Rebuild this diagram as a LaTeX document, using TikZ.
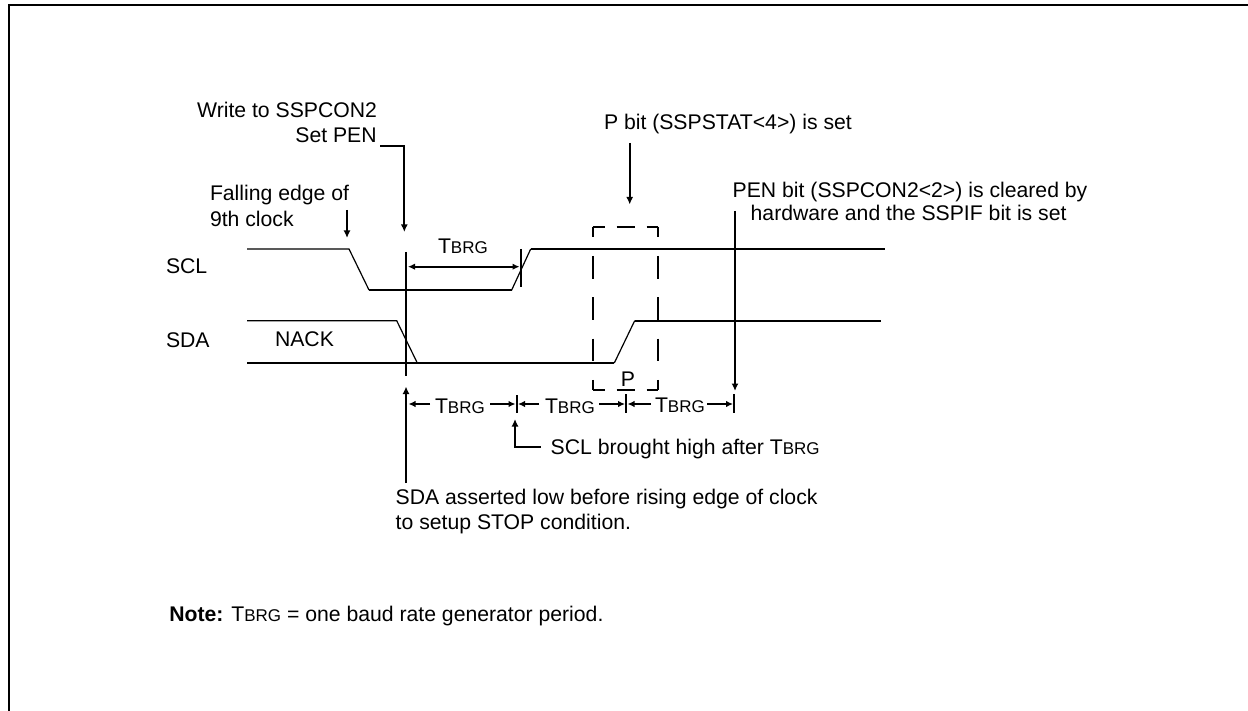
\documentclass[tikz,border=0pt]{standalone}
\usepackage{fontspec}
\setmainfont{Liberation Sans}
\usetikzlibrary{arrows.meta}
\newcommand{\tbrg}{T{\fontsize{17}{20}\selectfont BRG}}
\tikzset{
  x=1pt,y=-1pt,
  lbl/.style={inner sep=0pt,outer sep=0pt,font=\fontsize{21.2}{25}\selectfont},
  lblw/.style={lbl,anchor=base west},
  lble/.style={lbl,anchor=base east},
  wavethin/.style={line width=1.2pt,line join=miter},
  wavethick/.style={line width=1.8pt,line join=miter},
  mark line/.style={line width=1.8pt},
  pointer/.style={line width=1.7pt,-{Latex[length=7.5pt,width=7pt]}},
  dimhead/.style={line width=1.7pt,-{Latex[length=7pt,width=6.5pt]}},
  dashh/.style={line width=1.7pt,dash pattern=on 18pt off 12pt,dash phase=6pt},
  dashv/.style={line width=1.7pt,dash pattern=on 22.7pt off 18.6pt,dash phase=12pt},
}
\begin{document}
\begin{tikzpicture}
\useasboundingbox (0,0) rectangle (1248,711);
% frame
\coordinate (fa) at (1248,5);
\coordinate (fb) at (9,5);
\coordinate (fc) at (9,711);
\draw[line width=2pt,line join=miter] (fa) -- (fb) -- (fc);

% SCL waveform
\coordinate (sclA) at (247,249);
\coordinate (sclB) at (349,249);
\coordinate (sclC) at (369,290);
\coordinate (sclD) at (511.7,290);
\coordinate (sclE) at (530.7,249);
\coordinate (sclF) at (885,249);
\draw[wavethin] (sclA) -- (sclB) -- (sclC);
\draw[wavethick] (sclC) -- (sclD);
\draw[wavethin] (sclD) -- (sclE);
\draw[wavethick] (sclE) -- (sclF);

% SDA waveform
\coordinate (sdaA) at (247,320.7);
\coordinate (sdaB) at (396.7,320.7);
\coordinate (sdaC) at (417.3,363);
\coordinate (sdaD) at (247,363);
\coordinate (sdaE) at (614.3,363);
\coordinate (sdaF) at (634.7,320.7);
\coordinate (sdaG) at (880.7,320.7);
\draw[wavethin] (sdaA) -- (sdaB) -- (sdaC);
\draw[wavethick] (sdaD) -- (sdaE);
\draw[wavethin] (sdaE) -- (sdaF);
\draw[wavethick] (sdaF) -- (sdaG);

% vertical markers
\coordinate (m1a) at (406,252);
\coordinate (m1b) at (406,376);
\draw[mark line] (m1a) -- (m1b);
\coordinate (m2a) at (520.7,249);
\coordinate (m2b) at (520.7,287);
\draw[mark line] (m2a) -- (m2b);

% TBRG on SCL
\coordinate (t0a) at (408,266.7);
\coordinate (t0m) at (464,266.7);
\coordinate (t0b) at (519.5,266.7);
\draw[dimhead] (t0m) -- (t0a);
\draw[dimhead] (t0m) -- (t0b);
\node[lblw] (t0) at (438,254) {\tbrg};

% pointers
\coordinate (wA) at (380,145.7);
\coordinate (wB) at (404.3,145.7);
\coordinate (wC) at (404.3,232);
\draw[pointer,line join=miter] (wA) -- (wB) -- (wC);
\coordinate (feA) at (347,210);
\coordinate (feB) at (347,238);
\draw[pointer] (feA) -- (feB);
\coordinate (saA) at (406,483);
\coordinate (saB) at (406,386.5);
\draw[pointer] (saA) -- (saB);
\coordinate (penA) at (735,211);
\coordinate (penB) at (735,391);
\draw[pointer] (penA) -- (penB);
\coordinate (pbA) at (629.7,143);
\coordinate (pbB) at (629.7,204.5);
\draw[pointer] (pbA) -- (pbB);
\coordinate (shA) at (540.7,447);
\coordinate (shB) at (515,447);
\coordinate (shC) at (515,419);
\draw[pointer,line join=miter] (shA) -- (shB) -- (shC);

% dashed P box
\coordinate (bTL) at (592.7,226.7);
\coordinate (bTR) at (657.7,226.7);
\coordinate (bBL) at (592.7,390);
\coordinate (bBR) at (657.7,390);
\draw[dashh] (bTL) -- (bTR);
\draw[dashh] (bBL) -- (bBR);
\draw[dashv] (bTL) -- (bBL);
\draw[dashv] (bTR) -- (bBR);

% dimension ticks
\coordinate (k1a) at (516.7,395);
\coordinate (k1b) at (516.7,413);
\coordinate (k2a) at (626,394);
\coordinate (k2b) at (626,413);
\coordinate (k3a) at (734,394);
\coordinate (k3b) at (734,413);
\draw[mark line] (k1a) -- (k1b);
\draw[mark line] (k2a) -- (k2b);
\draw[mark line] (k3a) -- (k3b);

% dimension arrows
\coordinate (d1a) at (430,404);
\coordinate (d1b) at (408.5,404);
\coordinate (d2a) at (490,404);
\coordinate (d2b) at (515.5,404);
\coordinate (d3a) at (539,404);
\coordinate (d3b) at (518,404);
\coordinate (d4a) at (599,404);
\coordinate (d4b) at (625,404);
\coordinate (d5a) at (650.7,404);
\coordinate (d5b) at (627.5,404);
\coordinate (d6a) at (707,404);
\coordinate (d6b) at (733,404);
\draw[dimhead] (d1a) -- (d1b);
\draw[dimhead] (d2a) -- (d2b);
\draw[dimhead] (d3a) -- (d3b);
\draw[dimhead] (d4a) -- (d4b);
\draw[dimhead] (d5a) -- (d5b);
\draw[dimhead] (d6a) -- (d6b);
\node[lblw] (t1) at (435,413) {\tbrg};
\node[lblw] (t2) at (545,413) {\tbrg};
\node[lblw] (t3) at (655,412) {\tbrg};

% labels
\node[lble] (w1) at (377,117.7) {Write to SSPCON2};
\node[lble] (w2) at (376.7,142.7) {Set PEN};
\node[lblw] (f1) at (210,200.7) {Falling edge of};
\node[lblw] (f2) at (210,226.7) {9th clock};
\node[lblw] (scl) at (166,274) {SCL};
\node[lblw] (sda) at (166,347.7) {SDA};
\node[lblw] (nack) at (275,346.7) {NACK};
\node[lblw] (pb) at (604,129.3) {P bit (SSPSTAT<4>) is set};
\node[lblw] (pen1) at (732.7,197.3) {PEN bit (SSPCON2<2>) is cleared by};
\node[lblw] (pen2) at (750.7,221) {hardware and the SSPIF bit is set};
\node[lbl,anchor=base] (p) at (628,386.7) {P};
\node[lblw] (sh) at (550.7,454) {SCL brought high after \tbrg};
\node[lblw] (sa1) at (395.7,504) {SDA asserted low before rising edge of clock};
\node[lblw] (sa2) at (395.7,529.3) {to setup STOP condition.};
\node[lblw] (note) at (169.3,621.7) {\textbf{Note:} \tbrg{} = one baud rate generator period.};
\end{tikzpicture}
\end{document}
